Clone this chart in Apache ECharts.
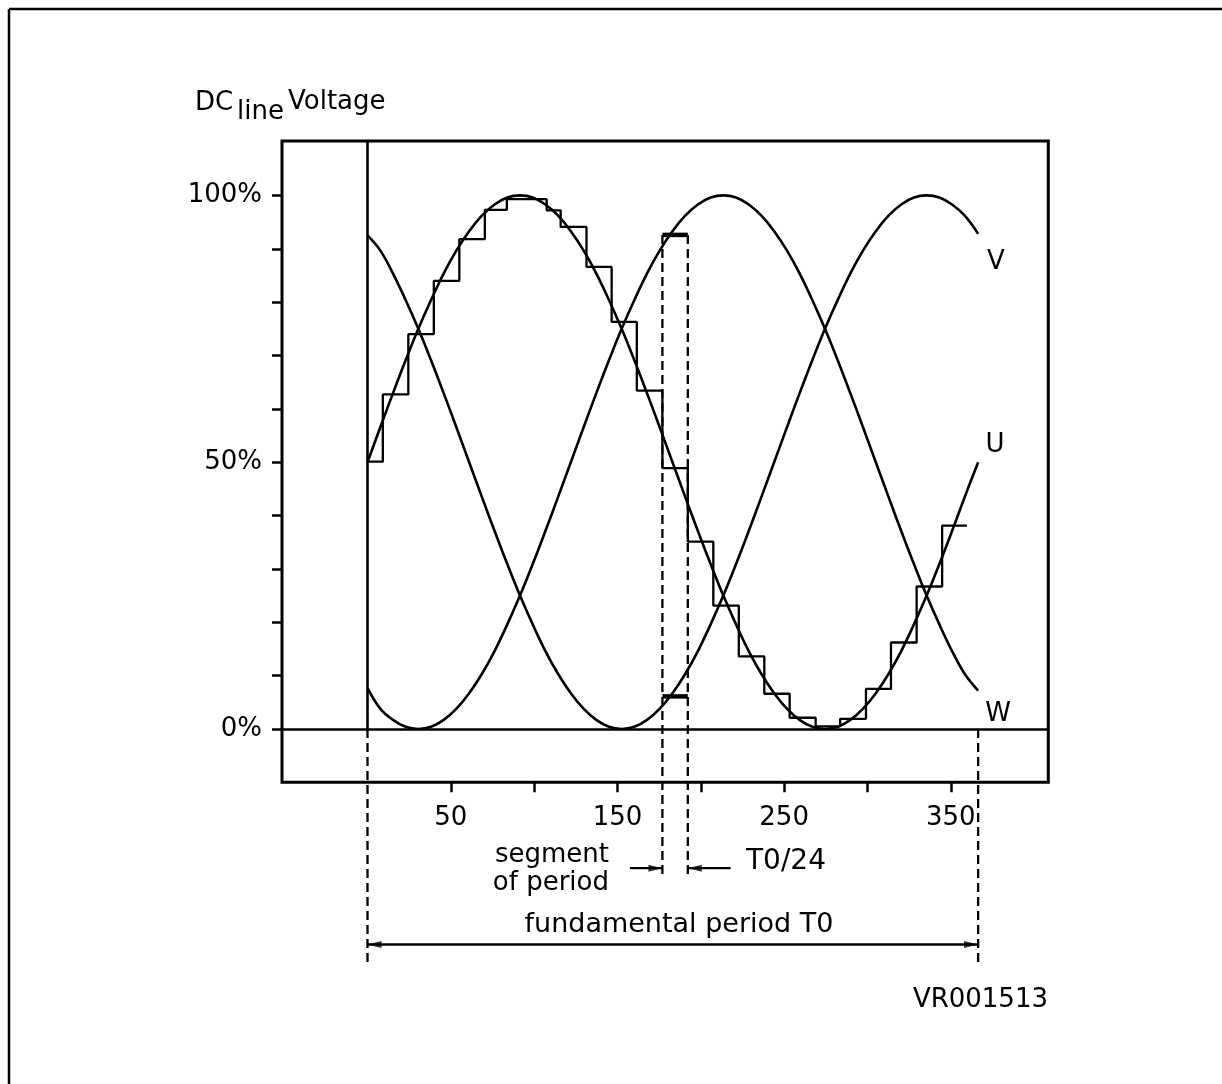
<!DOCTYPE html>
<html>
<head>
<meta charset="utf-8">
<style>
  html, body { margin: 0; padding: 0; background: #fff; }
  #main { width: 1222px; height: 1084px; }
</style>
<script src="https://cdn.jsdelivr.net/npm/echarts@6/dist/echarts.min.js"></script>
</head>
<body>
<div id="main"></div>
<script>
// sample positions along one fundamental period T0 (x axis units)
var curveX = [0, 7.63, 15.25, 22.88, 30.5, 38.13, 45.75, 53.38, 61, 68.63, 76.25, 83.88,
  91.5, 99.13, 106.75, 114.38, 122, 129.63, 137.25, 144.88, 152.5, 160.13, 167.75, 175.38,
  183, 190.63, 198.25, 205.88, 213.5, 221.13, 228.75, 236.38, 244, 251.63, 259.25, 266.88,
  274.5, 282.13, 289.75, 297.38, 305, 312.63, 320.25, 327.88, 335.5, 343.13, 350.75, 358.38, 366.4];
// the three phase voltages, % of DC line voltage
var phaseU = [50, 56.5, 62.9, 69.1, 75, 80.4, 85.4, 89.7, 93.3, 96.2, 98.3, 99.6,
  100, 99.6, 98.3, 96.2, 93.3, 89.7, 85.4, 80.4, 75, 69.1, 62.9, 56.5,
  50, 43.5, 37.1, 30.9, 25, 19.6, 14.6, 10.3, 6.7, 3.8, 1.7, 0.4,
  0, 0.4, 1.7, 3.8, 6.7, 10.3, 14.6, 19.6, 25, 30.9, 37.1, 43.5, 50];
var phaseV = [92.5, 89.7, 85.4, 80.4, 75, 69.1, 62.9, 56.5, 50, 43.5, 37.1, 30.9,
  25, 19.6, 14.6, 10.3, 6.7, 3.8, 1.7, 0.4, 0, 0.4, 1.7, 3.8,
  6.7, 10.3, 14.6, 19.6, 25, 30.9, 37.1, 43.5, 50, 56.5, 62.9, 69.1,
  75, 80.4, 85.4, 89.7, 93.3, 96.2, 98.3, 99.6, 100, 99.6, 98.3, 96.2, 92.8];
var phaseW = [7.7, 3.8, 1.7, 0.4, 0, 0.4, 1.7, 3.8, 6.7, 10.3, 14.6, 19.6,
  25, 30.9, 37.1, 43.5, 50, 56.5, 62.9, 69.1, 75, 80.4, 85.4, 89.7,
  93.3, 96.2, 98.3, 99.6, 100, 99.6, 98.3, 96.2, 93.3, 89.7, 85.4, 80.4,
  75, 69.1, 62.9, 56.5, 50, 43.5, 37.1, 30.9, 25, 19.6, 14.6, 10.3, 7.2];

// stepped approximation of U (segment edges and levels)
var stepEdges = [0, 9.2, 24.5, 39.8, 55.1, 70.4, 83.6, 107.5, 115.9, 131.4, 146.5, 161.6,
  176.95, 192.2, 207.5, 222.8, 238.1, 253.3, 268.9, 283.6, 299.1, 314.1, 329.5, 344.8, 359.7];
var stepLevels = [50.1, 62.7, 74.0, 84.0, 91.8, 97.3, 99.3, 97.2, 94.1, 86.6, 76.3, 63.4,
  48.9, 35.1, 23.1, 13.6, 6.6, 2.1, 0.5, 1.9, 7.5, 16.2, 26.7, 38.1];

// highlighted segment (one T0/24 slice) with the levels of the other two phases
var segEdges = [176.95, 192.2];
var segLevels = [92.6, 6.1];
var periodEnds = [0, 366.4];

var xTicks = [50, 100, 150, 200, 250, 300, 350];
var xLabels = [50, 150, 250, 350];
var yTicks = [0, 10, 20, 30, 40, 50, 60, 70, 80, 90, 100];
var yLabels = [0, 50, 100];

// layout of the dimension lines under the plot (in y axis units)
var X_MIN = -51.3, X_MAX = 408.5, Y_MIN = -10, Y_MAX = 110.2;
var segDashEnd = -28.1, periodDashEnd = -44.2;
var segArrowY = -26.1, periodArrowY = -40.4;
var segArrowLen = 19.5, t24ArrowLen = 25.7;

var FONT = '"DejaVu Sans", sans-serif';

function zip(xs, ys) {
  return xs.map(function (x, i) { return [x, ys[i]]; });
}

function stairs(edges, levels) {
  var pts = [];
  levels.forEach(function (v, i) {
    pts.push([edges[i], v]);
    pts.push([edges[i + 1], v]);
  });
  return pts;
}

function plainLine(data, width, dashed) {
  return {
    type: 'line',
    data: data,
    symbol: 'none',
    clip: false,
    silent: true,
    z: 3,
    lineStyle: { color: '#000', width: width, type: dashed ? [9, 5] : 'solid' }
  };
}

function curve(data) {
  return {
    type: 'line',
    data: data,
    smooth: 0.4,
    symbol: 'none',
    silent: true,
    lineStyle: { color: '#000', width: 2.6 }
  };
}

var myChart = echarts.init(document.getElementById('main'));

var uSeries = curve(zip(curveX, phaseU));
uSeries.markLine = {
  silent: true,
  symbol: 'none',
  label: { show: false },
  lineStyle: { color: '#000', width: 2.6, type: 'solid' },
  data: [
    { yAxis: 0 },
    [{ coord: [0, 0] }, { coord: [0, Y_MAX] }]
  ]
};

var arrows = [
  { value: [periodEnds[0], periodArrowY], symbolRotate: 90, symbolOffset: [7, 0] },
  { value: [periodEnds[1], periodArrowY], symbolRotate: -90, symbolOffset: [-7, 0] },
  { value: [segEdges[0], segArrowY], symbolRotate: -90, symbolOffset: [-7, 0] },
  { value: [segEdges[1], segArrowY], symbolRotate: 90, symbolOffset: [7, 0] }
];

var option = {
  animation: false,
  backgroundColor: '#fff',
  grid: {
    left: 282,
    top: 141,
    width: 766.3,
    height: 641.3,
    show: true,
    borderColor: '#000',
    borderWidth: 3,
    backgroundColor: 'transparent'
  },
  xAxis: {
    type: 'value',
    min: X_MIN,
    max: X_MAX,
    splitLine: { show: false },
    axisLine: { show: false, onZero: false },
    axisTick: {
      show: true,
      length: 10,
      customValues: xTicks,
      lineStyle: { color: '#000', width: 2.5 }
    },
    axisLabel: {
      customValues: xLabels,
      margin: 23,
      color: '#000',
      fontSize: 26,
      fontFamily: FONT
    }
  },
  yAxis: {
    type: 'value',
    min: Y_MIN,
    max: Y_MAX,
    splitLine: { show: false },
    axisLine: { show: false, onZero: false },
    axisTick: {
      show: true,
      length: 10,
      customValues: yTicks,
      lineStyle: { color: '#000', width: 2.5 }
    },
    axisLabel: {
      customValues: yLabels,
      margin: 20,
      color: '#000',
      fontSize: 26,
      fontFamily: FONT,
      formatter: function (v) { return v + '%'; }
    }
  },
  series: [
    uSeries,
    curve(zip(curveX, phaseV)),
    curve(zip(curveX, phaseW)),
    plainLine(stairs(stepEdges, stepLevels), 2.3, false),
    // other phases inside the highlighted segment
    plainLine([[segEdges[0], segLevels[0]], [segEdges[1], segLevels[0]]], 4.5, false),
    plainLine([[segEdges[0], segLevels[1]], [segEdges[1], segLevels[1]]], 4.5, false),
    // dashed guides
    plainLine([[segEdges[0], segLevels[0]], [segEdges[0], segDashEnd]], 2.3, true),
    plainLine([[segEdges[1], segLevels[0]], [segEdges[1], segDashEnd]], 2.3, true),
    plainLine([[periodEnds[0], 0], [periodEnds[0], periodDashEnd]], 2.3, true),
    plainLine([[periodEnds[1], 0], [periodEnds[1], periodDashEnd]], 2.3, true),
    // dimension lines
    plainLine([[periodEnds[0], periodArrowY], [periodEnds[1], periodArrowY]], 2.3, false),
    plainLine([[segEdges[0] - segArrowLen, segArrowY], [segEdges[0], segArrowY]], 2.3, false),
    plainLine([[segEdges[1], segArrowY], [segEdges[1] + t24ArrowLen, segArrowY]], 2.3, false),
    {
      type: 'scatter',
      data: arrows,
      symbol: 'triangle',
      symbolSize: [7, 14],
      clip: false,
      silent: true,
      z: 4,
      itemStyle: { color: '#000' }
    }
  ],
  graphic: [
    { type: 'line', shape: { x1: 9, y1: 9, x2: 1222, y2: 9 }, style: { stroke: '#000', lineWidth: 2.5 } },
    { type: 'line', shape: { x1: 9, y1: 9, x2: 9, y2: 1084 }, style: { stroke: '#000', lineWidth: 2.5 } },
    { type: 'text', x: 195, y: 103, style: { text: 'DC', font: '26px ' + FONT, fill: '#000', align: 'left', verticalAlign: 'middle' } },
    { type: 'text', x: 237, y: 112, style: { text: 'line', font: '26px ' + FONT, fill: '#000', align: 'left', verticalAlign: 'middle' } },
    { type: 'text', x: 288, y: 102, style: { text: 'Voltage', font: '26px ' + FONT, fill: '#000', align: 'left', verticalAlign: 'middle' } },
    { type: 'text', x: 996, y: 262, style: { text: 'V', font: '26px ' + FONT, fill: '#000', align: 'center', verticalAlign: 'middle' } },
    { type: 'text', x: 995, y: 445, style: { text: 'U', font: '26px ' + FONT, fill: '#000', align: 'center', verticalAlign: 'middle' } },
    { type: 'text', x: 998, y: 714, style: { text: 'W', font: '26px ' + FONT, fill: '#000', align: 'center', verticalAlign: 'middle' } },
    { type: 'text', x: 609, y: 855, style: { text: 'segment', font: '26px ' + FONT, fill: '#000', align: 'right', verticalAlign: 'middle' } },
    { type: 'text', x: 609, y: 883, style: { text: 'of period', font: '26px ' + FONT, fill: '#000', align: 'right', verticalAlign: 'middle' } },
    { type: 'text', x: 746, y: 862, style: { text: 'T0/24', font: '28px ' + FONT, fill: '#000', align: 'left', verticalAlign: 'middle' } },
    { type: 'text', x: 679, y: 925, style: { text: 'fundamental period T0', font: '27px ' + FONT, fill: '#000', align: 'center', verticalAlign: 'middle' } },
    { type: 'text', x: 1048, y: 1000, style: { text: 'VR001513', font: '26px ' + FONT, fill: '#000', align: 'right', verticalAlign: 'middle' } }
  ]
};

myChart.setOption(option);
window.addEventListener('resize', function () {
  myChart.resize();
});
</script>
</body>
</html>
